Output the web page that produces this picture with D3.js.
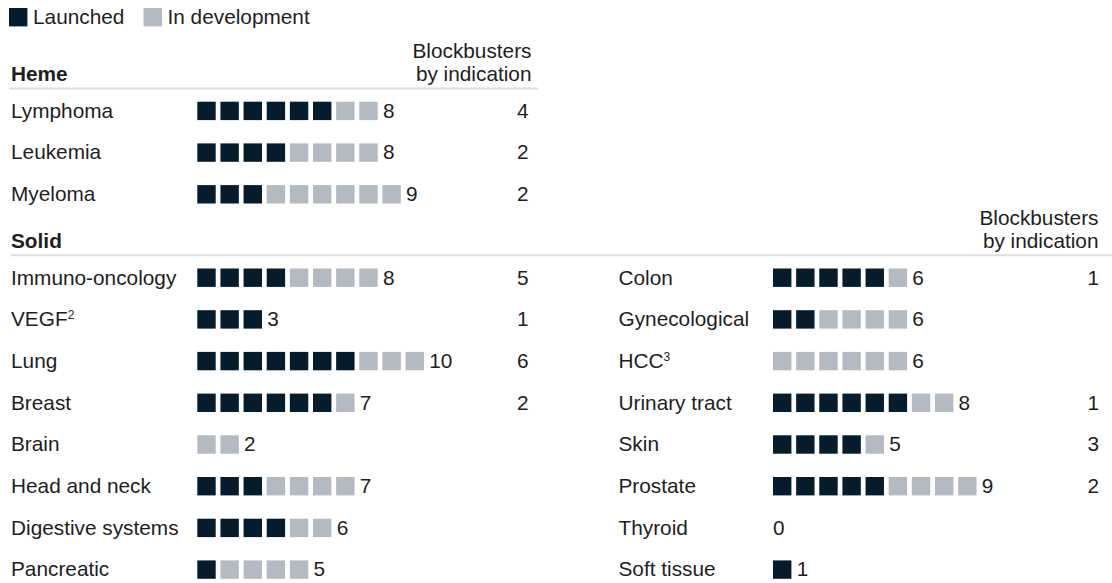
<!DOCTYPE html>
<html>
<head>
<meta charset="utf-8">
<script src="https://cdn.jsdelivr.net/npm/d3@7"></script>
<style>
  html, body { margin: 0; padding: 0; background: #fff; }
  svg { display: block; }
  text { font-family: "Liberation Sans", Arial, sans-serif; fill: #1e1e1e; }
</style>
</head>
<body>
<svg id="chart" width="1112" height="583"></svg>
<script>
// ---- data ----
const legendLabels = ["Launched", "In development"];
const headerLines = ["Blockbusters", "by indication"];

const hemeTitle = "Heme";
const hemeNames = ["Lymphoma", "Leukemia", "Myeloma"];
const hemeLaunched = [6, 4, 3];
const hemeDev = [2, 4, 6];
const hemeBlockbusters = [4, 2, 2];

const solidTitle = "Solid";
const solidLeftNames = ["Immuno-oncology", "VEGF", "Lung", "Breast", "Brain", "Head and neck", "Digestive systems", "Pancreatic"];
const solidLeftSup = ["", "2", "", "", "", "", "", ""];
const solidLeftLaunched = [4, 3, 7, 6, 0, 3, 4, 1];
const solidLeftDev = [4, 0, 3, 1, 2, 4, 2, 4];
const solidLeftBlockbusters = [5, 1, 6, 2, null, null, null, null];

const solidRightNames = ["Colon", "Gynecological", "HCC", "Urinary tract", "Skin", "Prostate", "Thyroid", "Soft tissue"];
const solidRightSup = ["", "", "3", "", "", "", "", ""];
const solidRightLaunched = [5, 2, 0, 6, 4, 5, 0, 1];
const solidRightDev = [1, 4, 6, 2, 1, 4, 0, 0];
const solidRightBlockbusters = [1, null, null, 1, 3, 2, null, null];

// ---- styles ----
const DARK = "#051c2c";
const GREY = "#b3bac1";
const RULE = "#dedede";
const FS = 20.8;
const SQ = 18.4;

const svg = d3.select("#chart");

// row scale: row index -> top of squares
const y = d3.scaleLinear().domain([0, 1]).range([101.7, 143.4]);
// square index -> x offset
const sx = d3.scaleLinear().domain([0, 1]).range([0, 23.14]);

// legend
const legend = svg.append("g");
const legX = [9, 143.5];
legendLabels.forEach((l, i) => {
  legend.append("rect").attr("x", legX[i]).attr("y", 8).attr("width", SQ).attr("height", SQ)
    .attr("fill", i === 0 ? DARK : GREY);
  legend.append("text").attr("x", legX[i] + 24).attr("y", 23.5).attr("font-size", FS).text(l);
});

function sectionHeader(title, rowIdx, lineX1, lineX2, headerRights) {
  const base = y(rowIdx) - 20.5;
  if (title) {
    svg.append("text").attr("x", 11).attr("y", base).attr("font-size", FS)
      .attr("font-weight", "bold").attr("fill", "#000").text(title);
  }
  svg.append("line").attr("x1", lineX1).attr("x2", lineX2)
    .attr("y1", base + 7.3).attr("y2", base + 7.3)
    .attr("stroke", RULE).attr("stroke-width", 2);
  headerRights.forEach(hx => {
    headerLines.forEach((h, i) => {
      svg.append("text").attr("x", hx).attr("y", base - 23.4 * (1 - i))
        .attr("text-anchor", "end").attr("font-size", FS).text(h);
    });
  });
}

function panel(names, sups, launched, dev, bb, startRow, labelX, sqX, bbX) {
  const rows = names.map((n, i) => ({
    name: n, sup: sups ? sups[i] : "", l: launched[i], d: dev[i], bb: bb[i], row: startRow + i
  }));
  const g = svg.append("g");
  const rg = g.selectAll("g.row").data(rows).join("g").attr("class", "row");
  rg.each(function(r) {
    const s = d3.select(this);
    const top = y(r.row);
    const t = s.append("text").attr("x", labelX).attr("y", top + 16).attr("font-size", FS).text(r.name);
    if (r.sup) t.append("tspan").attr("font-size", 12).attr("dy", -7).text(r.sup);
    const cells = d3.range(r.l + r.d).map(k => ({ k, launched: k < r.l }));
    s.selectAll("rect").data(cells).join("rect")
      .attr("x", c => sqX + sx(c.k)).attr("y", top)
      .attr("width", SQ).attr("height", SQ)
      .attr("fill", c => c.launched ? DARK : GREY);
    const n = r.l + r.d;
    s.append("text").attr("x", sqX + sx(n) + (n === 0 ? 0 : 0.5)).attr("y", top + 16)
      .attr("font-size", FS).text(n);
    if (r.bb !== null && r.bb !== undefined) {
      s.append("text").attr("x", bbX).attr("y", top + 16).attr("text-anchor", "end")
        .attr("font-size", FS).text(r.bb);
    }
  });
}

// Heme section
sectionHeader(hemeTitle, 0, 9, 538, [531.5]);
panel(hemeNames, null, hemeLaunched, hemeDev, hemeBlockbusters, 0, 11, 197.3, 528.5);

// Solid section
sectionHeader(solidTitle, 4, 11, 1112, [1098.5]);
panel(solidLeftNames, solidLeftSup, solidLeftLaunched, solidLeftDev, solidLeftBlockbusters, 4, 11, 197.3, 528.5);
panel(solidRightNames, solidRightSup, solidRightLaunched, solidRightDev, solidRightBlockbusters, 4, 618.5, 773, 1099);
</script>
</body>
</html>
